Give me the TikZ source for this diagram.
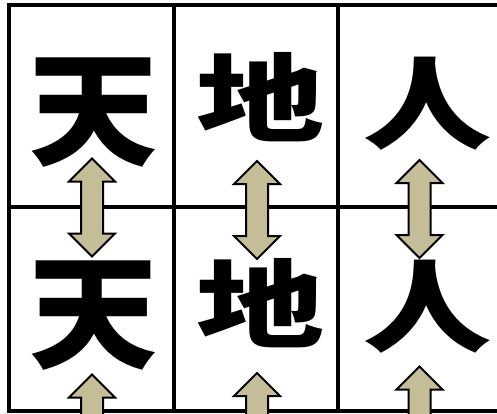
\documentclass[tikz,border=0pt]{standalone}
\usepackage{fontspec}
\newfontfamily\cjk{Noto Sans CJK JP}
\definecolor{arrtan}{RGB}{196,189,151}
\newcommand\vsqz[2]{\scalebox{1}[#1]{#2}}
\tikzset{
  gridline/.style={line width=4pt, line cap=rect},
  arrowsty/.style={fill=arrtan, draw=black, line width=2pt, line join=miter},
  ch/.style={font=\cjk\bfseries\fontsize{128}{128}\selectfont, inner sep=0pt, text height=112.6pt, text depth=15.4pt},
  dblarrow/.pic={\filldraw[arrowsty] (0,-49) -- (23,-26) -- (11,-26) -- (11,26) -- (23,26) -- (0,49) -- (-23,26) -- (-11,26) -- (-11,-26) -- (-23,-26) -- cycle;}
}
\begin{document}
\begin{tikzpicture}[x=1pt,y=-1pt]
\useasboundingbox (0,0) rectangle (497,413);
\begin{scope}
\clip (0,0) rectangle (497,413);
% grid
\draw[gridline] (9,4.8) -- (510,4.8);
\draw[gridline] (9,206.5) -- (510,206.5);
\draw[gridline] (9,411) -- (510,411);
\draw[gridline] (9,4.8) -- (9,411);
\draw[gridline] (174,4.8) -- (174,411);
\draw[gridline] (338,4.8) -- (338,411);
% arrows
\pic (a11) at (92,207.5) {dblarrow};
\pic (a12) at (257,210) {dblarrow};
\pic (a13) at (419.5,209) {dblarrow};
\pic (a21) at (92,423.5) {dblarrow};
\pic (a22) at (257,422) {dblarrow};
\pic (a23) at (419.5,415.5) {dblarrow};
% characters
\node[ch] (t1) at (93.5,106.5) {\vsqz{0.96}{天}};
\node[ch] (d1) at (260,86) {\vsqz{0.75}{地}};
\node[ch] (r1) at (427.5,93.3) {\vsqz{0.79}{人}};
\node[ch] (t2) at (93.5,310) {\vsqz{0.96}{天}};
\node[ch] (d2) at (260,291.4) {\vsqz{0.75}{地}};
\node[ch] (r2) at (427.5,296.3) {\vsqz{0.79}{人}};
\end{scope}
\end{tikzpicture}
\end{document}
